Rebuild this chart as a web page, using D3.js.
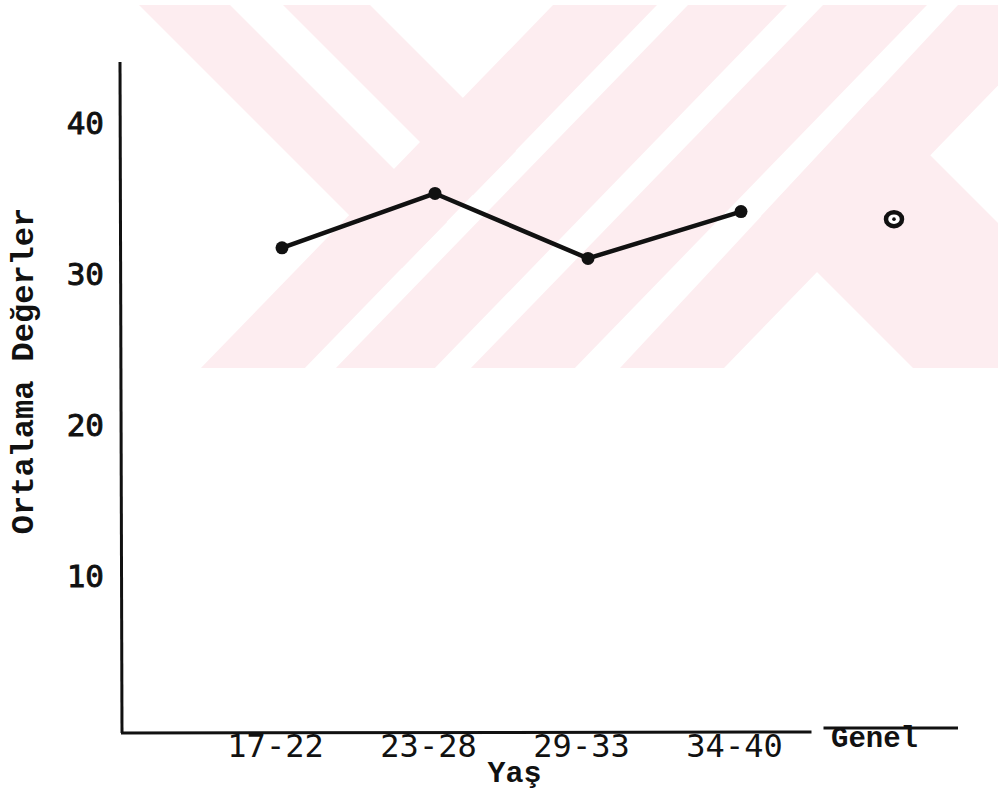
<!DOCTYPE html>
<html>
<head>
<meta charset="utf-8">
<script src="https://cdn.jsdelivr.net/npm/d3@7"></script>
<style>
html,body{margin:0;padding:0;background:#fff;}
svg{display:block;}
</style>
</head>
<body>
<svg id="chart" width="999" height="797"></svg>
<script>
// ---- data ----
const categories = ["17-22", "23-28", "29-33", "34-40", "Genel"];
const ageGroups = ["17-22", "23-28", "29-33", "34-40"];
const ageValues = [31.8, 35.4, 31.1, 34.2];
const overallCategory = "Genel";
const overallValue = 33.7;
const yTickValues = [10, 20, 30, 40];
const xTitle = "Yaş";
const yTitle = "Ortalama Değerler";

const svg = d3.select("#chart");
const ink = "#111";

// ---- background watermark (decoration) ----
const wmTop = 5, wmBot = 368, wmH = wmBot - wmTop;
svg.append("defs").append("clipPath").attr("id", "wmclip")
  .append("rect").attr("x", 0).attr("y", wmTop).attr("width", 998).attr("height", wmH);
function slash(a, b, s) { return [[a, wmTop], [b, wmTop], [b - s * wmH, wmBot], [a - s * wmH, wmBot]]; }
const wmPolys = [
  [[139, 5], [230, 5], [447, 222], [402, 268]],
  [[283, 5], [370, 5], [516, 151], [473, 195]],
  slash(553, 657, 0.97),
  slash(688, 787, 0.97),
  slash(823, 927, 0.97),
  [[958, 5], [1076, 5], [724, 368], [620, 368]],
  [[872, 97], [761, 216], [913, 368], [1143, 368]]
];
svg.append("g").attr("clip-path", "url(#wmclip)")
  .selectAll("polygon").data(wmPolys).join("polygon")
  .attr("points", d => d.map(p => p.join(",")).join(" "))
  .attr("fill", "#fdedf0");

// ---- scales ----
const x = d3.scalePoint().domain(categories).range([282, 894]);
const y = d3.scaleLinear().domain([0, 40]).range([728, 124]);
const axisX = 121, axisY = 733;

// ---- y axis ----
const yAxis = svg.append("g").attr("transform", `translate(${axisX},0)`)
  .call(d3.axisLeft(y).tickValues(yTickValues).tickSize(0).tickPadding(17).tickFormat(d3.format("d")));
yAxis.select(".domain").remove();
yAxis.selectAll("text")
  .attr("font-family", "'DejaVu Sans Mono', monospace")
  .attr("font-size", 31)
  .attr("fill", ink)
  .attr("stroke", ink)
  .attr("stroke-width", 0.9);
svg.append("line")
  .attr("x1", axisX - 1).attr("y1", y(44.1))
  .attr("x2", axisX + 1).attr("y2", axisY)
  .attr("stroke", ink).attr("stroke-width", 3);

// ---- x axis ----
const xAxis = svg.append("g").attr("transform", `translate(0,${axisY})`)
  .call(d3.axisBottom(x).tickSize(0).tickPadding(1));
xAxis.select(".domain").remove();
xAxis.selectAll("text")
  .attr("font-family", "'DejaVu Sans Mono', monospace")
  .attr("font-size", 32)
  .attr("dx", -7)
  .attr("fill", ink);
xAxis.selectAll(".tick").filter(d => d === overallCategory).select("text")
  .attr("font-family", "'Liberation Mono', 'Courier New', monospace")
  .attr("font-weight", "bold")
  .attr("font-size", 29)
  .attr("dx", -20)
  .attr("y", -7);

const gap = (x(overallCategory) + x(ageGroups[ageGroups.length - 1])) / 2;
svg.append("line")
  .attr("x1", axisX).attr("y1", axisY)
  .attr("x2", gap - 6).attr("y2", axisY - 1)
  .attr("stroke", ink).attr("stroke-width", 3);
svg.append("line")
  .attr("x1", gap + 6).attr("y1", axisY - 5)
  .attr("x2", x(overallCategory) + 64).attr("y2", axisY - 5)
  .attr("stroke", ink).attr("stroke-width", 3);

// ---- titles ----
svg.append("text")
  .attr("transform", "translate(33,371) rotate(-90)")
  .attr("text-anchor", "middle")
  .attr("font-family", "'Liberation Mono', 'Courier New', monospace")
  .attr("font-weight", "bold")
  .attr("font-size", 32)
  .attr("fill", ink)
  .text(yTitle);
svg.append("text")
  .attr("x", (x(categories[1]) + x(categories[2])) / 2 + 3)
  .attr("y", 782)
  .attr("text-anchor", "middle")
  .attr("font-family", "'Liberation Mono', 'Courier New', monospace")
  .attr("font-weight", "bold")
  .attr("font-size", 30)
  .attr("fill", ink)
  .text(xTitle);

// ---- series ----
const pts = ageGroups.map((c, i) => ({ c, v: ageValues[i] }));
svg.append("path")
  .datum(pts)
  .attr("d", d3.line().x(d => x(d.c)).y(d => y(d.v)))
  .attr("fill", "none")
  .attr("stroke", ink)
  .attr("stroke-width", 4.5)
  .attr("stroke-linejoin", "round")
  .attr("stroke-linecap", "round");
svg.append("g").selectAll("circle").data(pts).join("circle")
  .attr("cx", d => x(d.c)).attr("cy", d => y(d.v))
  .attr("r", 6.5).attr("fill", ink);

// overall marker
svg.append("ellipse")
  .attr("cx", x(overallCategory)).attr("cy", y(overallValue))
  .attr("rx", 8).attr("ry", 7).attr("fill", "#fff")
  .attr("stroke", ink).attr("stroke-width", 4.5);
svg.append("circle")
  .attr("cx", x(overallCategory)).attr("cy", y(overallValue))
  .attr("r", 1.8).attr("fill", ink);
</script>
</body>
</html>
